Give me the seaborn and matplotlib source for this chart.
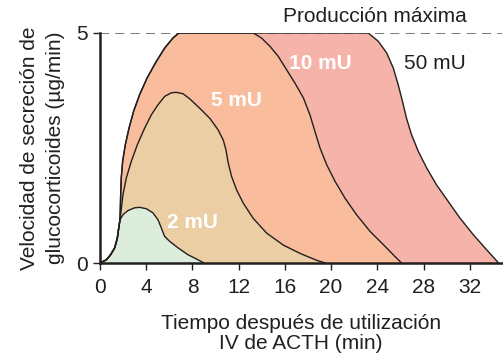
import numpy as np
import pandas as pd
import matplotlib
matplotlib.use('Agg')
import matplotlib.pyplot as plt
import seaborn as sns

# Curvas (tiempo en min, secrecion en ug/min)
t_2mu = [0, 0.55, 0.92, 1.27, 1.5, 1.62, 1.73, 1.99, 2.42, 3.0, 3.43, 4.01, 4.58, 5.02,
         5.31, 5.59, 6.03, 6.75, 7.61, 8.48, 9.0]
y_2mu = [0, 0.07, 0.18, 0.33, 0.54, 0.76, 0.94, 1.05, 1.14, 1.2, 1.21, 1.18, 1.09, 0.94,
         0.76, 0.58, 0.47, 0.33, 0.18, 0.07, 0]

t_5mu = [0, 0.55, 0.92, 1.27, 1.5, 1.62, 1.73, 1.99, 2.28, 2.71, 3.23, 3.86, 4.44, 5.02,
         5.59, 6.17, 6.6, 7.18, 7.76, 8.65, 9.52, 10.23, 10.67, 10.9, 11.1, 11.39, 11.82,
         12.4, 13.26, 14.42, 15.86, 17.3, 18.74, 19.5]
y_5mu = [0, 0.07, 0.18, 0.33, 0.54, 0.76, 0.94, 1.49, 1.85, 2.21, 2.57, 2.93, 3.22, 3.44,
         3.62, 3.70, 3.71, 3.68, 3.57, 3.36, 3.14, 2.89, 2.67, 2.46, 2.17, 1.88, 1.59,
         1.30, 0.97, 0.65, 0.39, 0.21, 0.06, 0]

t_rise = [0, 0.55, 0.92, 1.27, 1.5, 1.62, 1.73, 1.79, 1.84, 1.96, 2.19, 2.51, 2.91, 3.43,
          4.07, 4.87, 5.59, 6.31, 6.83]
y_rise = [0, 0.07, 0.18, 0.33, 0.54, 0.76, 0.94, 1.49, 1.85, 2.21, 2.57, 2.93, 3.30, 3.66,
          4.02, 4.38, 4.67, 4.89, 5.0]

t_10mu = t_rise + [13.26, 13.98, 14.71, 15.43, 16.15, 16.87, 17.6, 18.17, 18.6, 19.04,
                   19.61, 20.33, 21.2, 22.2, 23.36, 24.52, 25.53, 26.1]
y_10mu = y_rise + [5.0, 4.89, 4.71, 4.49, 4.2, 3.91, 3.59, 3.22, 2.86, 2.50,
                   2.14, 1.78, 1.41, 1.05, 0.69, 0.40, 0.14, 0]

t_50mu = t_rise + [23.21, 24.08, 24.8, 25.38, 25.8, 26.18, 26.52, 26.96, 27.54, 28.26,
                   29.12, 30.13, 31.14, 32.29, 33.45, 34.5]
y_50mu = y_rise + [5.0, 4.82, 4.57, 4.24, 3.88, 3.51, 3.15, 2.79, 2.43, 2.07,
                   1.70, 1.34, 0.98, 0.62, 0.29, 0]

doses = ['50 mU', '10 mU', '5 mU', '2 mU']
fill_colors = ['#F6B3AA', '#F9BD9D', '#EBCEA3', '#DDEDDB']
label_xy = [(29.0, 4.34), (19.1, 4.34), (11.8, 3.54), (8.0, 0.88)]

x_ticks = [0, 4, 8, 12, 16, 20, 24, 28, 32]
y_ticks = [0, 5]
y_max = 5

curves = [(t_50mu, y_50mu), (t_10mu, y_10mu), (t_5mu, y_5mu), (t_2mu, y_2mu)]

sns.set_theme(style='ticks')
plt.rcParams['font.family'] = ['Liberation Sans', 'DejaVu Sans']
ink = '#231F20'

fig = plt.figure(figsize=(5.03, 3.57), dpi=100)
ax = fig.add_axes([0.1988, 0.2633, 0.799, 0.6443])

# Linea de produccion maxima
ax.axhline(y_max, color='#555555', lw=1.1, ls=(0, (6, 4)), zorder=1)

for dose, (t, y), col in zip(doses, curves, fill_colors):
    ax.fill_between(t, y, 0, color=col, lw=0, zorder=2)
    df = pd.DataFrame({'t': t, 'y': y})
    sns.lineplot(data=df, x='t', y='y', sort=False, estimator=None,
                 color=ink, lw=1.0, ax=ax, zorder=3)

for dose, (lx, ly) in zip(doses, label_xy):
    if dose == '50 mU':
        ax.text(lx, ly, dose, ha='center', va='center', fontsize=15, color=ink)
    else:
        ax.text(lx, ly, dose, ha='center', va='center', fontsize=15,
                color='white', fontweight='bold', zorder=4)

ax.text(23.8, 5.36, 'Producción máxima', ha='center', va='center',
        fontsize=15, color=ink, clip_on=False)

ax.set_xlim(0, 34.78)
ax.set_ylim(0, y_max)
ax.set_xticks(x_ticks)
ax.set_yticks(y_ticks)
ax.tick_params(axis='both', labelsize=15, colors=ink, length=5, width=1.0)
ax.tick_params(axis='x', pad=6)
ax.tick_params(axis='y', pad=4)
ax.set_xlabel('Tiempo después de utilización\nIV de ACTH (min)', fontsize=15,
              color=ink, linespacing=1.1, labelpad=12)
ax.set_ylabel('Velocidad de secreción de\nglucocorticoides (µg/min)', fontsize=15,
              color=ink, linespacing=1.45, labelpad=8)

sns.despine(ax=ax)
for side in ['left', 'bottom']:
    ax.spines[side].set_linewidth(1.8)
    ax.spines[side].set_color(ink)

fig.savefig('out.png', dpi=100)
